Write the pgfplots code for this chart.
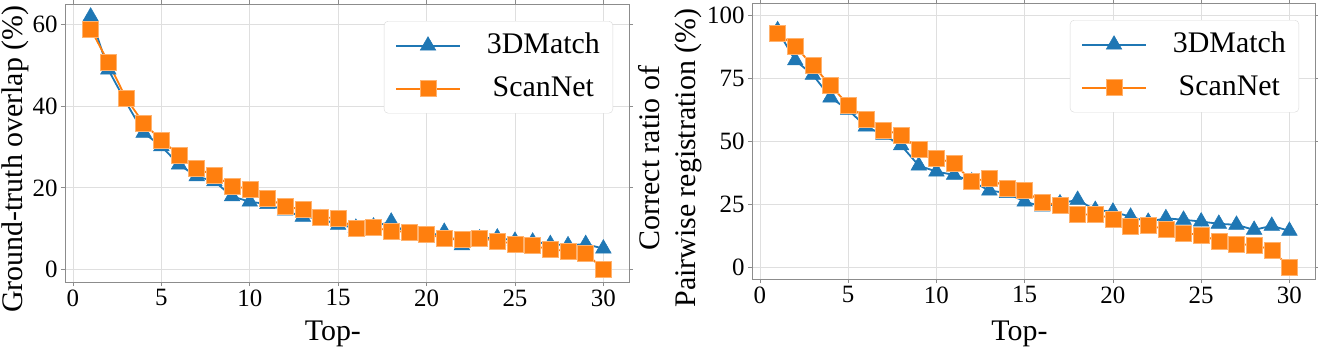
\documentclass[border=0pt]{standalone}
\usepackage{pgfplots}
\pgfplotsset{compat=1.18}
\usepackage{fontspec}
\setmainfont{Liberation Serif}
\definecolor{tabblue}{HTML}{1F77B4}
\definecolor{taborange}{HTML}{FF7F0E}

\pgfplotsset{
  topk/.style={
    scale only axis,
    anchor=north west,
    /pgf/number format/assume math mode=true,
    xmin=-0.45, xmax=31.45,
    xtick={0,5,...,30},
    grid=major,
    grid style={gray!25, line width=0.8bp},
    axis line style={black!45, line width=0.9bp},
    tick align=outside,
    major tick length=4bp,
    tick style={black!45, line width=0.8bp},
    ticklabel style={font=\fontsize{25}{30}\selectfont},
    label style={font=\fontsize{30}{36}\selectfont},
    xlabel={Top-},
    legend cell align=center,
    legend style={at={(1,1)}, anchor=north east, xshift=-16bp, yshift=-17bp,
      draw=black!15, rounded corners=4bp, fill=white,
      font=\fontsize{30}{36}\selectfont, inner xsep=11bp, inner ysep=8bp, row sep=10bp,
      nodes={inner sep=2bp, text height=22bp, text depth=7bp},
      /tikz/every odd column/.append style={column sep=24bp}},
    legend image code/.code={\draw[mark repeat=2, mark phase=2, #1]
      plot coordinates {(0bp,0bp) (32bp,0bp) (64bp,0bp)};},
  },
  s3d/.style={tabblue, line width=1.8bp, mark=triangle*, mark size=9bp,
    mark options={fill=tabblue, draw=tabblue, line width=0.5bp}},
  ssn/.style={taborange, line width=1.8bp, mark=square*, mark size=8bp,
    mark options={fill=taborange, draw=taborange!60!white, line width=0.5bp}},
}

\begin{document}
\begin{tikzpicture}
\useasboundingbox (0,0) rectangle (1318bp,-349bp);

% left: ground-truth overlap
\begin{axis}[topk,
  at={(65bp,-4bp)}, width=564bp, height=278bp,
  ymin=-3.1, ymax=65.1, ytick={0,20,40,60},
  ylabel={Ground-truth overlap (\%)},
  ylabel style={at={(axis description cs:-0.076,0.442)}, anchor=base},
  xlabel style={at={(axis description cs:0.475,0)}, anchor=base, yshift=-58bp},
]
\addplot[s3d] coordinates {
(1,62) (2,49) (3,41) (4,33.5) (5,30.2) (6,25.7) (7,22.8) (8,21.6) (9,17.9) (10,16.6)
(11,16.0) (12,14.4) (13,12.9) (14,12.5) (15,10.9) (16,10.2) (17,10.5) (18,11.7) (19,8.4) (20,8.0)
(21,9.2) (22,5.9) (23,7.6) (24,7.8) (25,7.0) (26,6.8) (27,6.2) (28,5.9) (29,6.2) (30,5.1)};
\addplot[ssn] coordinates {
(1,59) (2,50.8) (3,42) (4,35.8) (5,31.7) (6,28.1) (7,24.8) (8,23) (9,20.5) (10,19.7)
(11,17.5) (12,15.4) (13,14.7) (14,12.8) (15,12.5) (16,10.0) (17,10.3) (18,9.4) (19,9.2) (20,8.6)
(21,7.7) (22,7.3) (23,7.6) (24,7.0) (25,6.2) (26,5.8) (27,4.9) (28,4.5) (29,4.0) (30,0)};
\legend{3DMatch, ScanNet}
\end{axis}

% right: pairwise registration
\begin{axis}[topk,
  at={(752bp,-3bp)}, width=563bp, height=276bp,
  ymin=-4.7, ymax=104.8, ytick={0,25,50,75,100},
  ylabel={Correct ratio of\\Pairwise registration (\%)},
  ylabel style={align=center, at={(axis description cs:-0.1456,0.438)}, anchor=center},
  xlabel style={at={(axis description cs:0.475,0)}, anchor=base, yshift=-61bp},
]
\addplot[s3d] coordinates {
(1,94) (2,82) (3,76.3) (4,67.3) (5,62.4) (6,55.8) (7,52.5) (8,48.3) (9,40.3) (10,37.9)
(11,36.6) (12,34) (13,30.4) (14,29.4) (15,26) (16,24) (17,25.3) (18,26.7) (19,22.7) (20,22)
(21,20) (22,18) (23,19.4) (24,18.8) (25,18.1) (26,17.2) (27,16.8) (28,14.8) (29,16.4) (30,14.4)};
\addplot[ssn] coordinates {
(1,92.9) (2,87.5) (3,80) (4,72.1) (5,64.4) (6,58.8) (7,54.5) (8,52.5) (9,46.8) (10,43.2)
(11,41.3) (12,34) (13,35.3) (14,31.3) (15,30.4) (16,25.6) (17,24.7) (18,20.8) (19,21) (20,19.2)
(21,16.1) (22,16.5) (23,15.1) (24,13.5) (25,12.8) (26,10.2) (27,9.1) (28,8.8) (29,6.9) (30,0)};
\legend{3DMatch, ScanNet}
\end{axis}
\end{tikzpicture}
\end{document}
